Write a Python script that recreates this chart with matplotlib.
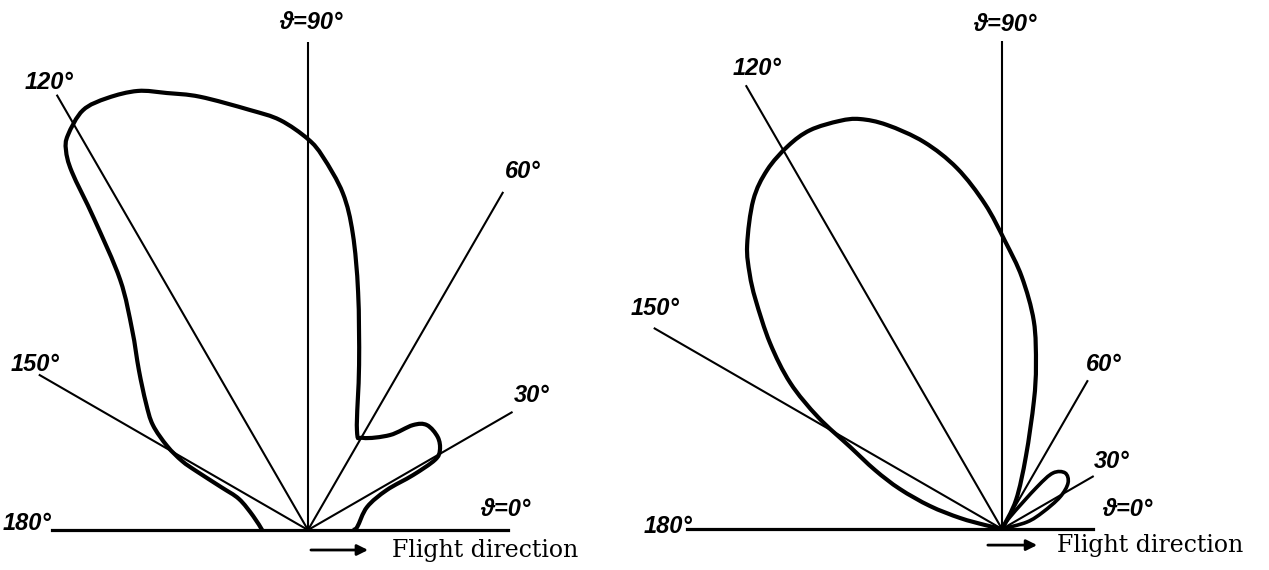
import numpy as np
import matplotlib.pyplot as plt
from matplotlib.path import Path
from matplotlib.patches import PathPatch

# Radiation pattern, left diagram (angle in degrees, relative radius)
left_theta = [180.0, 165.7, 155.8, 153.7, 152.2, 151.3, 149.2, 145.9, 141.9, 136.6,
              131.3, 126.9, 124.5, 123.4, 122.5, 121.3, 118.2, 114.9, 111.2, 107.9,
              104.0, 97.9, 93.9, 90.0, 87.7, 84.1, 81.4, 78.1, 72.8, 63.9,
              59.1, 49.2, 45.0, 41.4, 35.6, 31.2, 28.9, 27.6, 26.9, 21.3,
              3.5, 0.0]
left_r = [9.4, 11.6, 15.5, 19.9, 25.9, 29.4, 33.6, 38.4, 42.2, 47.7,
          54.6, 64.1, 77.4, 87.9, 92.3, 94.7, 97.6, 97.6, 96.5, 94.1,
          91.5, 86.9, 84.2, 80.1, 76.5, 69.4, 61.4, 49.8, 35.4, 22.8,
          22.0, 25.7, 30.4, 32.5, 32.7, 31.6, 29.7, 24.3, 18.1, 13.0,
          10.1, 9.2]

# Right diagram: main lobe and small forward lobe
right_main_theta = [180.0, 166.8, 165.3, 162.3, 158.6, 155.1, 151.6, 148.7, 145.4, 141.3,
                    137.1, 134.7, 131.9, 127.1, 123.2, 119.2, 115.7, 111.7, 109.1, 105.9,
                    101.4, 97.1, 93.0, 89.4, 85.5, 81.3, 78.3, 76.0, 71.8, 64.2,
                    60.0]
right_main_r = [0.0, 3.6, 8.9, 15.5, 22.5, 28.7, 35.4, 44.1, 52.7, 60.9,
                68.9, 73.5, 78.2, 84.5, 87.9, 89.9, 90.7, 90.0, 88.9, 86.1,
                80.9, 74.5, 66.7, 59.0, 51.8, 43.1, 34.3, 27.0, 15.7, 6.6,
                0.0]
right_side_theta = [60.0, 56.3, 50.2, 47.7, 41.6, 34.9, 28.9, 22.5, 15.6, 10.0]
right_side_r = [0.0, 3.0, 11.2, 15.5, 17.3, 16.5, 13.6, 9.1, 5.3, 0.0]

# Reference rays and their drawn lengths
ray_angles = [30, 60, 90, 120, 150]
left_ray_len = [48.4, 80.0, 100.0, 103.0, 63.7]
right_ray_len = [21.7, 35.2, 100.0, 105.0, 82.4]
left_base = (-52.5, 41.0)
right_base = (-64.5, 18.6)

UNIT = 4.88  # pixels per radius unit
W, H = 1269, 570

label_font = ["Liberation Sans", "DejaVu Sans"]


def to_xy(theta, r):
    t = np.radians(theta)
    r = np.asarray(r)
    return r * np.cos(t), r * np.sin(t)


def smooth_path(x, y):
    # Catmull-Rom through the points, written as cubic Bezier segments
    p = np.column_stack([x, y])
    pts = np.vstack([p[0], p, p[-1]])
    verts = [p[0]]
    codes = [Path.MOVETO]
    for i in range(1, len(pts) - 2):
        p0, p1, p2, p3 = pts[i - 1], pts[i], pts[i + 1], pts[i + 2]
        verts += [p1 + (p2 - p0) / 6, p2 - (p3 - p1) / 6, p2]
        codes += [Path.CURVE4] * 3
    return Path(verts, codes)


def frame(ax, ox, oy, px0, px1):
    ax.set_xlim((px0 - ox) / UNIT, (px1 - ox) / UNIT)
    ax.set_ylim(-(H - oy) / UNIT, oy / UNIT)
    ax.axis("off")


fig = plt.figure(figsize=(W / 100, H / 100), dpi=100)
ax1 = fig.add_axes([0, 0, 634 / W, 1])
ax2 = fig.add_axes([634 / W, 0, 1 - 634 / W, 1])
frame(ax1, 308, 530, 0, 634)
frame(ax2, 1002, 529, 634, W)

for ax, lens, base in [(ax1, left_ray_len, left_base), (ax2, right_ray_len, right_base)]:
    for ang, ln in zip(ray_angles, lens):
        x, y = to_xy(ang, [0, ln])
        ax.plot(x, y, color="black", lw=1.5, solid_capstyle="butt")
    ax.plot(base, [0, 0], color="black", lw=2.3)

# pattern curves
x, y = to_xy(left_theta, left_r)
ax1.add_patch(PathPatch(smooth_path(x, y), fill=False, lw=3.0, ec="black"))
x, y = to_xy(right_main_theta, right_main_r)
ax2.add_patch(PathPatch(smooth_path(x, y), fill=False, lw=3.0, ec="black"))
x, y = to_xy(right_side_theta, right_side_r)
ax2.add_patch(PathPatch(smooth_path(x, y), fill=False, lw=2.6, ec="black"))

# angle labels
left_lbl = {"30°": (45.8, 27.5), "60°": (44.0, 73.4), "ϑ=90°": (0.6, 104.0),
            "120°": (-53.0, 91.8), "150°": (-56.0, 34.0),
            "ϑ=0°": (40.5, 4.1), "180°": (-57.5, 1.4)}
right_lbl = {"30°": (22.5, 13.9), "60°": (20.9, 33.8), "ϑ=90°": (0.6, 103.4),
             "120°": (-50.2, 94.3), "150°": (-71.0, 45.1),
             "ϑ=0°": (25.6, 3.9), "180°": (-68.5, 0.6)}

for ax, lbl in [(ax1, left_lbl), (ax2, right_lbl)]:
    for txt, (tx, ty) in lbl.items():
        ax.text(tx, ty, txt, family=label_font, style="italic", weight="bold",
                fontsize=17, ha="center", va="center")

# flight direction arrows
for ax, (a0, a1, ay), tx in [(ax1, (0.6, 12.3, -4.1), 17.2), (ax2, (-2.9, 7.2, -3.3), 11.3)]:
    ax.annotate("", xy=(a1, ay), xytext=(a0, ay),
                arrowprops=dict(arrowstyle="-|>", lw=2, color="black", mutation_scale=16,
                                shrinkA=0, shrinkB=0))
    ax.text(tx, ay, "Flight direction", family="DejaVu Serif", fontsize=17,
            ha="left", va="center")

fig.savefig("out.png", dpi=100)
